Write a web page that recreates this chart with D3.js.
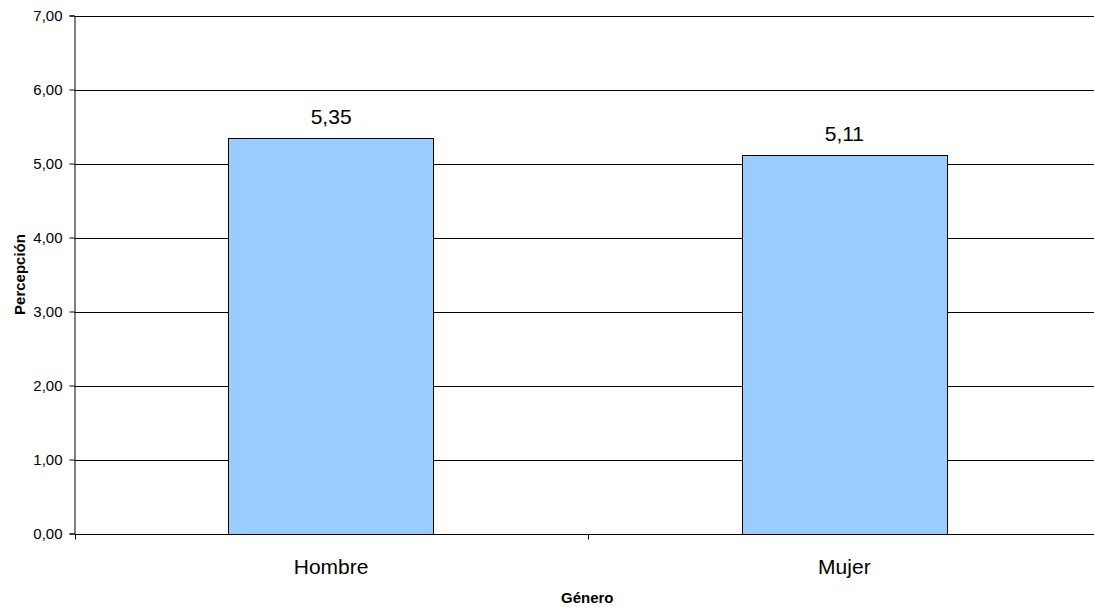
<!DOCTYPE html>
<html>
<head>
<meta charset="utf-8">
<script src="https://cdn.jsdelivr.net/npm/d3@7"></script>
<style>
  html, body { margin: 0; padding: 0; background: #fff; }
  svg { display: block; font-family: "Liberation Sans", Arial, sans-serif; }
</style>
</head>
<body>
<svg id="chart" width="1094" height="607"></svg>
<script>
// Perception score by gender
const categories = ["Hombre", "Mujer"];
const values = [5.35, 5.11];
const yTicks = [0, 1, 2, 3, 4, 5, 6, 7];
const xTitle = "Género";
const yTitle = "Percepción";

const svg = d3.select("#chart");
const margin = { left: 74.5, top: 15.5, right: -7, bottom: 73.5 };
const W = 1094, H = 607;
const plotRight = W - margin.right;
const plotBottom = H - margin.bottom;

const x = d3.scaleBand().domain(categories).range([margin.left, plotRight]).paddingInner(0).paddingOuter(0);
const y = d3.scaleLinear().domain([0, 7]).range([plotBottom, margin.top]);
const fmt = v => d3.format(".2f")(v).replace(".", ",");

// horizontal gridlines
svg.append("g").selectAll("line").data(yTicks.filter(t => t > 0)).join("line")
  .attr("x1", margin.left).attr("x2", plotRight)
  .attr("y1", d => Math.round(y(d)) + 0.5).attr("y2", d => Math.round(y(d)) + 0.5)
  .attr("stroke", "#000").attr("stroke-width", 1);

// bars
const barW = x.bandwidth() * 0.4;
svg.append("g").selectAll("rect").data(categories).join("rect")
  .attr("x", d => Math.round(x(d) + x.bandwidth() / 2 - barW / 2) + 0.5)
  .attr("y", (d, i) => Math.round(y(values[i])) + 0.5)
  .attr("width", Math.round(barW))
  .attr("height", (d, i) => Math.round(y(0)) - Math.round(y(values[i])))
  .attr("fill", "#99ccff").attr("stroke", "#000").attr("stroke-width", 1);

// value labels
svg.append("g").selectAll("text").data(categories).join("text")
  .attr("x", d => x(d) + x.bandwidth() / 2)
  .attr("y", (d, i) => y(values[i]) - 14)
  .attr("text-anchor", "middle").attr("font-size", 21).attr("fill", "#000")
  .text((d, i) => fmt(values[i]));

// y axis
const yAxis = svg.append("g").attr("transform", `translate(${margin.left},0)`)
  .call(d3.axisLeft(y).tickValues(yTicks).tickSize(5).tickPadding(7).tickFormat(fmt));
yAxis.select(".domain").attr("stroke", "#000");
yAxis.selectAll(".tick line").attr("stroke", "#000");
yAxis.selectAll("text").attr("font-size", 15).attr("font-family", "Liberation Sans, Arial, sans-serif").attr("fill", "#000");

// x axis: ticks at category boundaries
const xAxisG = svg.append("g").attr("transform", `translate(0,${Math.round(plotBottom) + 0.5})`);
xAxisG.append("line").attr("x1", margin.left).attr("x2", plotRight).attr("stroke", "#000");
const bounds = categories.map(c => x(c)).concat([x(categories[categories.length - 1]) + x.bandwidth()]);
xAxisG.selectAll("line.tick").data(bounds).join("line").attr("class", "tick")
  .attr("x1", d => Math.round(d) + 0.5).attr("x2", d => Math.round(d) + 0.5)
  .attr("y1", 0).attr("y2", 5).attr("stroke", "#000");
xAxisG.selectAll("text").data(categories).join("text")
  .attr("x", d => x(d) + x.bandwidth() / 2).attr("y", 39)
  .attr("text-anchor", "middle").attr("font-size", 21).attr("fill", "#000")
  .text(d => d);

// axis titles
svg.append("text").attr("x", (margin.left + plotRight) / 2 - 0.5).attr("y", 603)
  .attr("text-anchor", "middle").attr("font-size", 15).attr("font-weight", "bold").text(xTitle);
svg.append("text").attr("transform", `translate(25,${(margin.top + plotBottom) / 2}) rotate(-90)`)
  .attr("text-anchor", "middle").attr("font-size", 15).attr("font-weight", "bold").text(yTitle);
</script>
</body>
</html>
